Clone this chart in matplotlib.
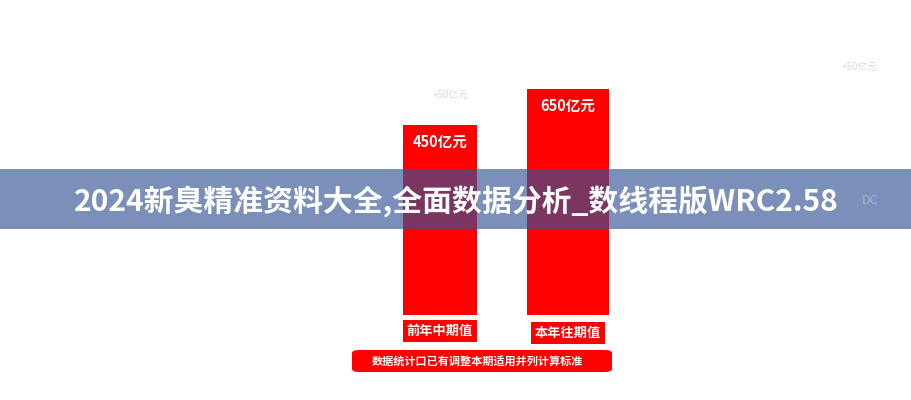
import matplotlib
matplotlib.use("Agg")
import matplotlib.pyplot as plt
from matplotlib.patches import Rectangle, FancyBboxPatch

plt.rcParams['font.family'] = ['Noto Sans CJK SC', 'DejaVu Sans']

# chart data
categories = ["前年中期值", "本年往期值"]
values = [450, 650]
value_labels = ["450亿元", "650亿元"]
note = "数据统计口已有调整本期适用并列计算标准"
title = "2024新臭精准资料大全,全面数据分析_数线程版WRC2.58"

# drawing setup (pixel-matched layout)
W, H = 911, 400
baseline = -605
bar_widths = [0.58, 0.64]
red = "#fe0000"

fig = plt.figure(figsize=(W / 100, H / 100), dpi=100)
fig.patch.set_facecolor("white")
ax = fig.add_axes([0, 0, 1, 1])
ax.set_xlim(-3.4375, 3.68)
ax.set_ylim(-1078, 1144)
ax.axis("off")

x = list(range(len(categories)))
heights = [v - baseline for v in values]
bars = ax.bar(x, heights, bottom=baseline, width=bar_widths, color=red,
              edgecolor="none", zorder=2)

for xi, v, lab in zip(x, values, value_labels):
    ax.text(xi, v - 95, lab, ha="center", va="center", color="white",
            fontsize=10.5, fontweight="bold", zorder=3)

# category labels in red boxes under bars
label_y = [-694, -705]
for xi, cat, ly in zip(x, categories, label_y):
    ax.text(xi, ly, cat, ha="center", va="center", color="white",
            fontsize=9.5, fontweight="bold", zorder=3,
            bbox=dict(boxstyle="square,pad=0.3", facecolor=red,
                      edgecolor="none"))

# faint ghost texts
ax.text(0.08, 617, "+50亿元", ha="center", va="center", color="#c8c0b0",
        fontsize=7, alpha=0.6)
fig.text(860 / W, 1 - 67 / H, "+50亿元", ha="center", va="center",
         color="#c8c0b0", fontsize=7, alpha=0.6)

# note box at bottom
fig.add_artist(FancyBboxPatch((352 / W, 1 - 372 / H), 260 / W, 22 / H,
                              boxstyle="round,pad=0,rounding_size=0.008",
                              facecolor=red, edgecolor="none",
                              transform=fig.transFigure, zorder=3))
fig.text(372 / W, 1 - 361 / H, note, ha="left", va="center", color="white",
         fontsize=8, fontweight="bold", zorder=4)

# title banner overlay
fig.add_artist(Rectangle((0, 1 - 229 / H), 1, 60 / H, facecolor="#335394",
                         alpha=0.65, edgecolor="none",
                         transform=fig.transFigure, zorder=5))
fig.text(456 / W, 1 - 201 / H, title, ha="center", va="center",
         color="white", fontsize=21.5, fontweight="bold", zorder=6)
fig.text(870 / W, 1 - 201 / H, "DC", ha="center", va="center",
         color="#c8cede", fontsize=9, alpha=0.6, zorder=6)

fig.savefig("out.png", dpi=100)
